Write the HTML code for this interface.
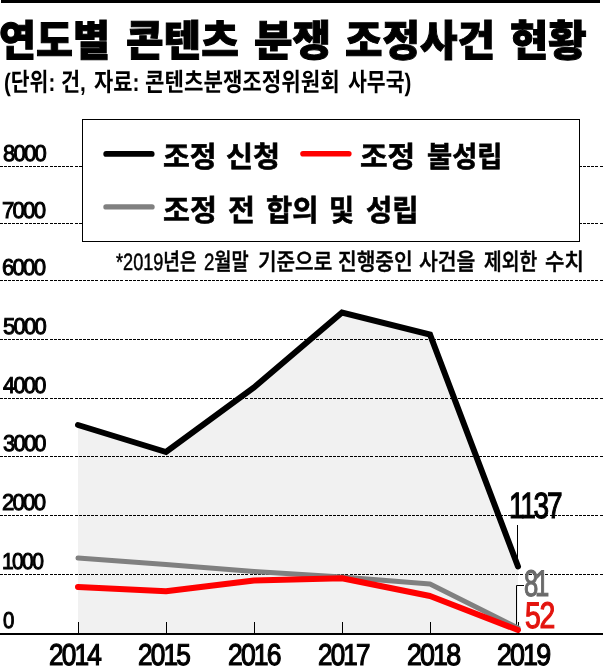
<!DOCTYPE html>
<html lang="ko"><head><meta charset="utf-8"><title>연도별 콘텐츠 분쟁 조정사건 현황</title>
<style>
html,body{margin:0;padding:0;background:#fff;}
#wrap{position:relative;width:603px;height:666px;overflow:hidden;background:#fff;}
#topbar{position:absolute;left:1px;top:0;width:599px;height:3px;background:#000;}
svg{position:absolute;left:0;top:0;}
.t{position:absolute;white-space:pre;line-height:1;transform-origin:0 0;text-rendering:geometricPrecision;}
</style></head><body>
<div id="wrap">
<div id="topbar"></div>
<svg width="603" height="666" viewBox="0 0 603 666">
<polygon points="78,633 78,425 166,452 254,387.5 342,312.5 430,334.5 518,566.5 518,633" fill="#f1f1f1"/>
<line x1="0" y1="166.5" x2="603" y2="166.5" stroke="#000" stroke-width="1" stroke-dasharray="3 1 3 1 3 1 3 1 3 1 3 2"/>
<line x1="0" y1="223.5" x2="603" y2="223.5" stroke="#000" stroke-width="1" stroke-dasharray="3 1 3 1 3 1 3 1 3 1 3 2"/>
<line x1="0" y1="280.5" x2="603" y2="280.5" stroke="#000" stroke-width="1" stroke-dasharray="3 1 3 1 3 1 3 1 3 1 3 2"/>
<line x1="0" y1="339.5" x2="603" y2="339.5" stroke="#000" stroke-width="1" stroke-dasharray="3 1 3 1 3 1 3 1 3 1 3 2"/>
<line x1="0" y1="398.5" x2="603" y2="398.5" stroke="#000" stroke-width="1" stroke-dasharray="3 1 3 1 3 1 3 1 3 1 3 2"/>
<line x1="0" y1="456.5" x2="603" y2="456.5" stroke="#000" stroke-width="1" stroke-dasharray="3 1 3 1 3 1 3 1 3 1 3 2"/>
<line x1="0" y1="515.5" x2="603" y2="515.5" stroke="#000" stroke-width="1" stroke-dasharray="3 1 3 1 3 1 3 1 3 1 3 2"/>
<line x1="0" y1="574.5" x2="603" y2="574.5" stroke="#000" stroke-width="1" stroke-dasharray="3 1 3 1 3 1 3 1 3 1 3 2"/>
<rect x="82.5" y="119.5" width="497" height="122" fill="#fff" stroke="#000" stroke-width="1"/>
<line x1="106.2" y1="153.9" x2="151.7" y2="153.9" stroke="#000" stroke-width="5.8" stroke-linecap="round"/>
<line x1="303" y1="153.8" x2="348.8" y2="153.8" stroke="#ff0000" stroke-width="5.6" stroke-linecap="round"/>
<line x1="106" y1="206.9" x2="152" y2="206.9" stroke="#808080" stroke-width="5.4" stroke-linecap="round"/>
<rect x="0" y="633" width="603" height="2" fill="#000"/>
<rect x="78" y="622" width="1" height="11" fill="#000"/>
<rect x="166" y="622" width="1" height="11" fill="#000"/>
<rect x="254" y="622" width="1" height="11" fill="#000"/>
<rect x="342" y="622" width="1" height="11" fill="#000"/>
<rect x="430" y="622" width="1" height="11" fill="#000"/>
<rect x="518" y="622" width="1" height="11" fill="#000"/>
<polyline points="524,585.5 516.5,585.5 516.5,626" fill="none" stroke="#000" stroke-width="1"/>
<line x1="517.5" y1="525" x2="517.5" y2="560" stroke="#000" stroke-width="1"/>
<polyline points="78,558 166,564.4 254,571.4 342,577 430,584 518,628" fill="none" stroke="#808080" stroke-width="5" stroke-linejoin="round" stroke-linecap="round"/>
<polyline points="78,425 166,452 254,387.5 342,312.5 430,334.5 518,566.5" fill="none" stroke="#000" stroke-width="6" stroke-linejoin="miter" stroke-linecap="round"/>
<polyline points="78,587 166,591.2 254,580.6 342,578.3 430,596 518,630" fill="none" stroke="#ff0000" stroke-width="6" stroke-linejoin="round" stroke-linecap="round"/>
</svg>
<span class="t" style="left:-0.61px;top:21.05px;font-family:'Liberation Sans','Noto Sans CJK KR',sans-serif;font-weight:900;font-size:42.72px;color:#000;transform:scaleX(0.9404);-webkit-text-stroke:1px currentColor">연도별</span>
<span class="t" style="left:125.9px;top:21.05px;font-family:'Liberation Sans','Noto Sans CJK KR',sans-serif;font-weight:900;font-size:42.72px;color:#000;transform:scaleX(0.9564);-webkit-text-stroke:1px currentColor">콘텐츠</span>
<span class="t" style="left:253.82px;top:21.05px;font-family:'Liberation Sans','Noto Sans CJK KR',sans-serif;font-weight:900;font-size:42.72px;color:#000;transform:scaleX(0.9806);-webkit-text-stroke:1px currentColor">분쟁</span>
<span class="t" style="left:345.15px;top:21.05px;font-family:'Liberation Sans','Noto Sans CJK KR',sans-serif;font-weight:900;font-size:42.72px;color:#000;transform:scaleX(0.9541);-webkit-text-stroke:1px currentColor">조정사건</span>
<span class="t" style="left:509.88px;top:21.05px;font-family:'Liberation Sans','Noto Sans CJK KR',sans-serif;font-weight:900;font-size:42.72px;color:#000;transform:scaleX(0.9753);-webkit-text-stroke:1px currentColor">현황</span>
<span class="t" style="left:3.59px;top:71.25px;font-family:'Liberation Sans','Noto Sans CJK KR',sans-serif;font-weight:700;font-size:25.28px;color:#000;transform:scaleX(0.8084);">(단위:</span>
<span class="t" style="left:61.37px;top:71.25px;font-family:'Liberation Sans','Noto Sans CJK KR',sans-serif;font-weight:700;font-size:25.28px;color:#000;transform:scaleX(0.822);">건,</span>
<span class="t" style="left:93.58px;top:71.25px;font-family:'Liberation Sans','Noto Sans CJK KR',sans-serif;font-weight:700;font-size:25.28px;color:#000;transform:scaleX(0.8271);">자료:</span>
<span class="t" style="left:145.46px;top:71.25px;font-family:'Liberation Sans','Noto Sans CJK KR',sans-serif;font-weight:700;font-size:25.28px;color:#000;transform:scaleX(0.8376);">콘텐츠분쟁조정위원회</span>
<span class="t" style="left:347.89px;top:71.25px;font-family:'Liberation Sans','Noto Sans CJK KR',sans-serif;font-weight:700;font-size:25.28px;color:#000;transform:scaleX(0.8118);">사무국)</span>
<span class="t" style="left:162.99px;top:143.7px;font-family:'Liberation Sans','Noto Sans CJK KR',sans-serif;font-weight:700;font-size:29.02px;color:#000;transform:scaleX(1.005);-webkit-text-stroke:0.6px currentColor">조정</span>
<span class="t" style="left:226.44px;top:143.7px;font-family:'Liberation Sans','Noto Sans CJK KR',sans-serif;font-weight:700;font-size:29.02px;color:#000;transform:scaleX(1.014);-webkit-text-stroke:0.6px currentColor">신청</span>
<span class="t" style="left:359.87px;top:143.7px;font-family:'Liberation Sans','Noto Sans CJK KR',sans-serif;font-weight:700;font-size:29.02px;color:#000;transform:scaleX(1.0332);-webkit-text-stroke:0.6px currentColor">조정</span>
<span class="t" style="left:426.89px;top:143.7px;font-family:'Liberation Sans','Noto Sans CJK KR',sans-serif;font-weight:700;font-size:29.02px;color:#000;transform:scaleX(0.9425);-webkit-text-stroke:0.6px currentColor">불성립</span>
<span class="t" style="left:163.12px;top:196.55px;font-family:'Liberation Sans','Noto Sans CJK KR',sans-serif;font-weight:700;font-size:29.98px;color:#000;transform:scaleX(0.9767);-webkit-text-stroke:0.6px currentColor">조정</span>
<span class="t" style="left:227.77px;top:196.55px;font-family:'Liberation Sans','Noto Sans CJK KR',sans-serif;font-weight:700;font-size:29.98px;color:#000;transform:scaleX(0.9778);-webkit-text-stroke:0.6px currentColor">전</span>
<span class="t" style="left:265.75px;top:196.55px;font-family:'Liberation Sans','Noto Sans CJK KR',sans-serif;font-weight:700;font-size:29.98px;color:#000;transform:scaleX(0.9502);-webkit-text-stroke:0.6px currentColor">합의</span>
<span class="t" style="left:328.75px;top:196.55px;font-family:'Liberation Sans','Noto Sans CJK KR',sans-serif;font-weight:700;font-size:29.98px;color:#000;transform:scaleX(0.9095);-webkit-text-stroke:0.6px currentColor">및</span>
<span class="t" style="left:366.02px;top:196.55px;font-family:'Liberation Sans','Noto Sans CJK KR',sans-serif;font-weight:700;font-size:29.98px;color:#000;transform:scaleX(0.9546);-webkit-text-stroke:0.6px currentColor">성립</span>
<span class="t" style="left:115.7px;top:251.45px;font-family:'Liberation Sans','Noto Sans CJK KR',sans-serif;font-weight:500;font-size:23.54px;color:#000;transform:scaleX(0.7702);-webkit-text-stroke:0.5px currentColor">*2019년은</span>
<span class="t" style="left:203.51px;top:251.45px;font-family:'Liberation Sans','Noto Sans CJK KR',sans-serif;font-weight:500;font-size:23.54px;color:#000;transform:scaleX(0.7927);-webkit-text-stroke:0.5px currentColor">2월말</span>
<span class="t" style="left:257.54px;top:251.45px;font-family:'Liberation Sans','Noto Sans CJK KR',sans-serif;font-weight:500;font-size:23.54px;color:#000;transform:scaleX(0.8566);-webkit-text-stroke:0.5px currentColor">기준으로</span>
<span class="t" style="left:338.24px;top:251.45px;font-family:'Liberation Sans','Noto Sans CJK KR',sans-serif;font-weight:500;font-size:23.54px;color:#000;transform:scaleX(0.8611);-webkit-text-stroke:0.5px currentColor">진행중인</span>
<span class="t" style="left:419.47px;top:251.45px;font-family:'Liberation Sans','Noto Sans CJK KR',sans-serif;font-weight:500;font-size:23.54px;color:#000;transform:scaleX(0.8661);-webkit-text-stroke:0.5px currentColor">사건을</span>
<span class="t" style="left:483.69px;top:251.45px;font-family:'Liberation Sans','Noto Sans CJK KR',sans-serif;font-weight:500;font-size:23.54px;color:#000;transform:scaleX(0.8203);-webkit-text-stroke:0.5px currentColor">제외한</span>
<span class="t" style="left:544.83px;top:251.45px;font-family:'Liberation Sans','Noto Sans CJK KR',sans-serif;font-weight:500;font-size:23.54px;color:#000;transform:scaleX(0.895);-webkit-text-stroke:0.5px currentColor">수치</span>
<span class="t" style="left:2.67px;top:141.6px;font-family:'Liberation Sans',sans-serif;font-weight:400;font-size:22.91px;color:#000;transform:scaleX(0.9629);-webkit-text-stroke:1.0px currentColor;letter-spacing:-0.08em">8000</span>
<span class="t" style="left:2.42px;top:198.6px;font-family:'Liberation Sans',sans-serif;font-weight:400;font-size:22.91px;color:#000;transform:scaleX(0.9684);-webkit-text-stroke:1.0px currentColor;letter-spacing:-0.08em">7000</span>
<span class="t" style="left:2.42px;top:255.6px;font-family:'Liberation Sans',sans-serif;font-weight:400;font-size:22.91px;color:#000;transform:scaleX(0.9684);-webkit-text-stroke:1.0px currentColor;letter-spacing:-0.08em">6000</span>
<span class="t" style="left:2.67px;top:314.6px;font-family:'Liberation Sans',sans-serif;font-weight:400;font-size:22.91px;color:#000;transform:scaleX(0.9629);-webkit-text-stroke:1.0px currentColor;letter-spacing:-0.08em">5000</span>
<span class="t" style="left:3.15px;top:373.6px;font-family:'Liberation Sans',sans-serif;font-weight:400;font-size:22.91px;color:#000;transform:scaleX(0.9522);-webkit-text-stroke:1.0px currentColor;letter-spacing:-0.08em">4000</span>
<span class="t" style="left:2.91px;top:431.6px;font-family:'Liberation Sans',sans-serif;font-weight:400;font-size:22.91px;color:#000;transform:scaleX(0.9575);-webkit-text-stroke:1.0px currentColor;letter-spacing:-0.08em">3000</span>
<span class="t" style="left:2.42px;top:490.6px;font-family:'Liberation Sans',sans-serif;font-weight:400;font-size:22.91px;color:#000;transform:scaleX(0.9684);-webkit-text-stroke:1.0px currentColor;letter-spacing:-0.08em">2000</span>
<span class="t" style="left:1.55px;top:549.6px;font-family:'Liberation Sans',sans-serif;font-weight:400;font-size:22.91px;color:#000;transform:scaleX(0.9211);-webkit-text-stroke:1.0px currentColor;letter-spacing:-0.08em">1000</span>
<span class="t" style="left:2.55px;top:608.6px;font-family:'Liberation Sans',sans-serif;font-weight:400;font-size:22.91px;color:#000;transform:scaleX(0.8936);-webkit-text-stroke:1.0px currentColor;letter-spacing:-0.08em">0</span>
<span class="t" style="left:49.13px;top:640.7px;font-family:'Liberation Sans',sans-serif;font-weight:400;font-size:30.16px;color:#000;transform:scaleX(0.8689);-webkit-text-stroke:1.2px currentColor;letter-spacing:-0.07em">2014</span>
<span class="t" style="left:138.23px;top:640.7px;font-family:'Liberation Sans',sans-serif;font-weight:400;font-size:30.16px;color:#000;transform:scaleX(0.8695);-webkit-text-stroke:1.2px currentColor;letter-spacing:-0.07em">2015</span>
<span class="t" style="left:228.22px;top:640.7px;font-family:'Liberation Sans',sans-serif;font-weight:400;font-size:30.16px;color:#000;transform:scaleX(0.8797);-webkit-text-stroke:1.2px currentColor;letter-spacing:-0.07em">2016</span>
<span class="t" style="left:318.24px;top:640.7px;font-family:'Liberation Sans',sans-serif;font-weight:400;font-size:30.16px;color:#000;transform:scaleX(0.863);-webkit-text-stroke:1.2px currentColor;letter-spacing:-0.07em">2017</span>
<span class="t" style="left:407.21px;top:640.7px;font-family:'Liberation Sans',sans-serif;font-weight:400;font-size:30.16px;color:#000;transform:scaleX(0.8898);-webkit-text-stroke:1.2px currentColor;letter-spacing:-0.07em">2018</span>
<span class="t" style="left:497.01px;top:640.7px;font-family:'Liberation Sans',sans-serif;font-weight:400;font-size:30.16px;color:#000;transform:scaleX(0.8898);-webkit-text-stroke:1.2px currentColor;letter-spacing:-0.07em">2019</span>
<span class="t" style="left:509.48px;top:487.7px;font-family:'Liberation Sans',sans-serif;font-weight:400;font-size:36.55px;color:#000;transform:scaleX(0.7653);-webkit-text-stroke:1.2px currentColor;letter-spacing:-0.05em;letter-spacing:-0.08em">1137</span>
<span class="t" style="left:523.71px;top:564.6px;font-family:'Liberation Sans',sans-serif;font-weight:400;font-size:37.04px;color:#6a6a6a;transform:scaleX(0.692);-webkit-text-stroke:1.2px currentColor;letter-spacing:-0.05em;letter-spacing:-0.13em">81</span>
<span class="t" style="left:524.62px;top:596.8px;font-family:'Liberation Sans',sans-serif;font-weight:400;font-size:37.04px;color:#e3140e;transform:scaleX(0.7678);-webkit-text-stroke:1.2px currentColor;letter-spacing:-0.05em">52</span>
</div>
</body></html>
